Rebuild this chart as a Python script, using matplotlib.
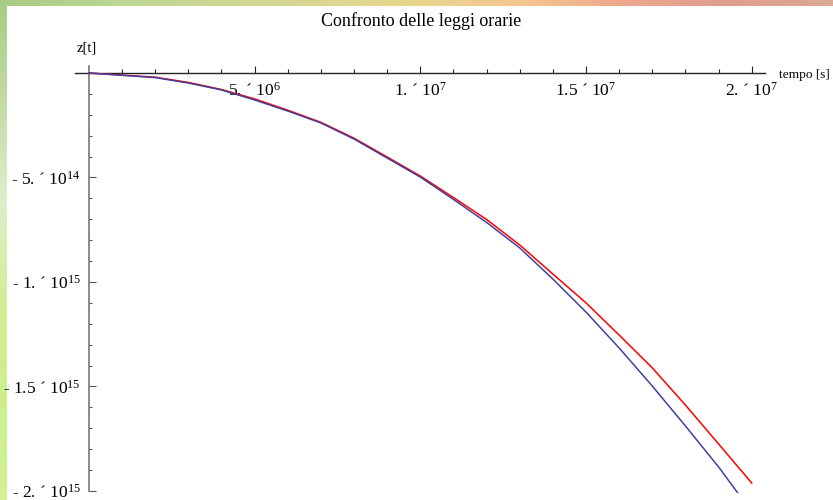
import numpy as np
import matplotlib
matplotlib.use("Agg")
import matplotlib.pyplot as plt
from matplotlib.ticker import FixedLocator

# ---------------- data ----------------
t_values = [0, 1e6, 2e6, 3e6, 4e6, 5e6, 6e6, 7e6, 8e6, 9e6, 10e6,
            11e6, 12e6, 13e6, 14e6, 15e6, 16e6, 17e6, 18e6, 19e6, 20e6]
z_blue = [0, -0.11e14, -0.22e14, -0.48e14, -0.81e14, -1.29e14, -1.82e14,
          -2.39e14, -3.16e14, -4.07e14, -4.98e14, -6.05e14, -7.15e14,
          -8.37e14, -9.86e14, -11.44e14, -13.16e14, -14.98e14, -16.89e14,
          -18.85e14, -21.0e14]
z_red = [0, -0.10e14, -0.20e14, -0.45e14, -0.79e14, -1.24e14, -1.78e14,
         -2.36e14, -3.12e14, -4.02e14, -4.93e14, -5.96e14, -7.01e14,
         -8.23e14, -9.62e14, -11.00e14, -12.54e14, -14.11e14, -15.89e14,
         -17.75e14, -19.62e14]

x_ticks = [5e6, 1e7, 1.5e7, 2e7]
x_tick_labels = ["5. ´ 10$^{6}$", "1. ´ 10$^{7}$", "1.5 ´ 10$^{7}$", "2. ´ 10$^{7}$"]
y_ticks = [-5e14, -1e15, -1.5e15, -2e15]
y_tick_labels = ["- 5. ´ 10$^{14}$", "- 1. ´ 10$^{15}$", "- 1.5 ´ 10$^{15}$", "- 2. ´ 10$^{15}$"]

title = "Confronto delle leggi orarie"
x_label = "tempo [s]"
y_label = "z[t]"

# ---------------- style ----------------
plt.rcParams['font.family'] = ['Liberation Serif', 'DejaVu Serif']
plt.rcParams['mathtext.fontset'] = 'custom'
plt.rcParams['mathtext.rm'] = 'Liberation Serif'
plt.rcParams['mathtext.it'] = 'Liberation Serif:italic'
plt.rcParams['mathtext.bf'] = 'Liberation Serif:bold'

W, H = 833, 500
fig = plt.figure(figsize=(W / 100, H / 100), dpi=100)

# decorative background (slide backdrop around the white plot area)
bg = fig.add_axes([0, 0, 1, 1], zorder=-10)
bg.axis('off')
img = np.ones((H, W, 3))
ys = np.arange(H)
xs = np.arange(W)
left_pos = [0, 100, 200, 300, 400, 499]
left_r = [0.66, 0.76, 0.88, 0.82, 0.80, 0.82]
left_g = [0.80, 0.86, 0.93, 0.93, 0.94, 0.95]
left_b = [0.52, 0.64, 0.80, 0.58, 0.55, 0.58]
for c, arr in enumerate([left_r, left_g, left_b]):
    img[:, :7, c] = np.interp(ys, left_pos, arr)[:, None]
top_pos = [0, 120, 250, 400, 520, 620, 720, 832]
top_r = [0.66, 0.74, 0.82, 0.90, 0.96, 0.93, 0.88, 0.86]
top_g = [0.80, 0.84, 0.84, 0.84, 0.78, 0.66, 0.62, 0.66]
top_b = [0.52, 0.58, 0.58, 0.56, 0.56, 0.56, 0.56, 0.58]
for c, arr in enumerate([top_r, top_g, top_b]):
    img[:6, :, c] = np.interp(xs, top_pos, arr)[None, :]
bg.imshow(img, extent=[0, 1, 0, 1], aspect='auto', interpolation='bilinear')

# main axes: pixel box x 75..765, y 66..493
ax = fig.add_axes([75 / W, (H - 493) / H, 690 / W, 427 / H])
ax.set_facecolor('none')
ax.set_xlim(-4.2e5, 2.04e7)
ax.set_ylim(-2.0096e15, 3.35e13)

ax.plot(t_values, z_red, color='#ff0000', lw=1.1, zorder=3)
ax.plot(t_values, z_blue, color='#4040a0', lw=1.1, zorder=4)

for s in ['top', 'right']:
    ax.spines[s].set_visible(False)
ax.spines['bottom'].set_position(('data', 0))
ax.spines['left'].set_position(('data', 0))
ax.spines['bottom'].set_bounds(-4.2e5, 2.04e7)
ax.spines['left'].set_bounds(-2e15, 3.35e13)
ax.spines['bottom'].set_color('#222222')
ax.spines['left'].set_color('#777777')
ax.spines['bottom'].set_linewidth(1.0)
ax.spines['left'].set_linewidth(1.2)

ax.xaxis.set_major_locator(FixedLocator(x_ticks))
ax.set_xticklabels(x_tick_labels)
ax.xaxis.set_minor_locator(FixedLocator([v * 1e6 for v in range(1, 21) if v % 5 != 0]))
ax.yaxis.set_major_locator(FixedLocator(y_ticks))
ax.set_yticklabels(y_tick_labels)
ax.yaxis.set_minor_locator(FixedLocator([-v * 1e14 for v in range(1, 20) if v % 5 != 0]))

ax.tick_params(axis='x', which='major', direction='in', length=5, width=0.8,
               color='#222222', labelsize=12.5, pad=6)
ax.tick_params(axis='x', which='minor', direction='in', length=2.8, width=0.8, color='#222222')
ax.tick_params(axis='y', which='major', direction='in', length=5, width=0.8,
               color='#555555', labelsize=12.5, pad=6)
ax.tick_params(axis='y', which='minor', direction='in', length=2.5, width=0.8, color='#555555')

fig.text(421 / W, 1 - 21 / H, title, ha='center', va='center', fontsize=13)
fig.text(77 / W, 1 - 48 / H, y_label, ha='left', va='center', fontsize=10.5)
fig.text(779 / W, 1 - 75 / H, x_label, ha='left', va='center', fontsize=9.6)

fig.savefig('out.png', dpi=100)
